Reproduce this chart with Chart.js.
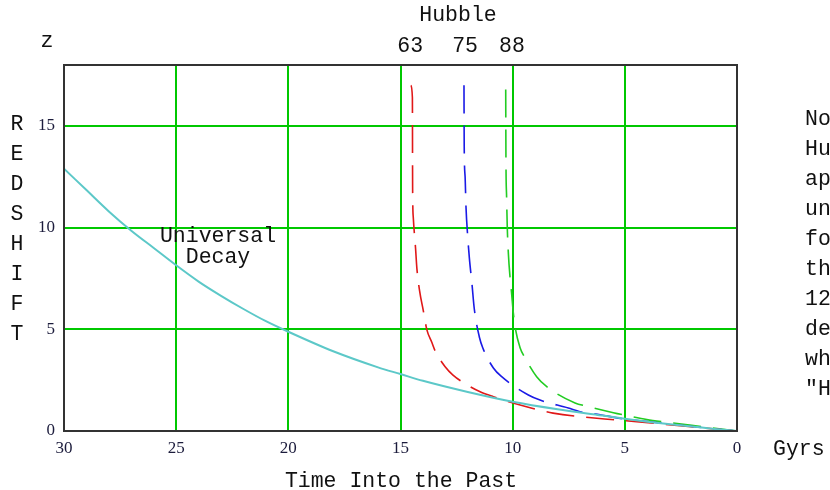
<!DOCTYPE html>
<html>
<head>
<meta charset="utf-8">
<title>Redshift vs Time Into the Past</title>
<script src="https://cdn.jsdelivr.net/npm/chart.js@4.4.0/dist/chart.umd.min.js"></script>
<style>
  html, body { margin: 0; padding: 0; background: #fff; }
  canvas { display: block; }
</style>
</head>
<body>
<canvas id="chartRedshift" width="830" height="490"></canvas>
<script>
// time into the past (Gyr) and redshift
const decayTime = [30, 29, 28, 27, 26, 25, 24, 23, 22, 21, 20, 18, 16, 15, 14, 12, 10, 8, 6, 5, 4, 2, 1, 0];
const decayZ    = [12.9, 11.85, 10.8, 9.85, 9.0, 8.15, 7.35, 6.65, 6.0, 5.4, 4.88, 3.92, 3.13, 2.8, 2.47, 1.92, 1.44, 1.07, 0.76, 0.6, 0.46, 0.22, 0.1, 0];

const redTime = [14.54, 14.47, 14.46, 14.43, 14.33, 14.27, 14.15, 13.98, 13.83, 13.6, 13.46, 13.01, 12.66, 11.9, 11.45, 10.86, 9.98, 8.2, 6.25, 4.47, 2.54, 0];
const redZ    = [17.0, 16.4, 12.0, 10.5, 9.0, 8.0, 6.9, 5.9, 5.0, 4.35, 3.95, 3.16, 2.75, 2.18, 1.93, 1.69, 1.38, 0.88, 0.63, 0.46, 0.26, 0];

const blueTime = [12.17, 12.16, 12.12, 12.08, 12.0, 11.93, 11.82, 11.71, 11.48, 11.33, 10.86, 10.49, 9.3, 8.78, 7.52, 7.0, 6.1, 5.2, 4.3, 3.3, 2.3, 1.0, 0];
const blueZ    = [17.0, 14.0, 12.5, 11.0, 9.5, 8.5, 7.3, 6.0, 4.6, 4.08, 3.1, 2.67, 1.77, 1.52, 1.13, 0.95, 0.8, 0.62, 0.5, 0.38, 0.26, 0.1, 0];

const greenTime = [10.31, 10.3, 10.27, 10.24, 10.19, 10.12, 10.05, 9.97, 9.89, 9.67, 9.45, 8.93, 8.48, 7.22, 6.7, 5.51, 4.92, 4.02, 3.13, 2.02, 0];
const greenZ    = [16.8, 13.5, 11.5, 10.0, 8.7, 7.6, 6.8, 5.8, 5.1, 4.1, 3.6, 2.67, 2.18, 1.38, 1.22, 0.9, 0.76, 0.56, 0.43, 0.28, 0];

const hubbleLabels = ['63', '75', '88'];
const hubbleLabelAt = [14.57, 12.12, 10.03];   // time where each label sits
const yAxisWord = 'REDSHIFT';
const sideNote = ['No', 'Hu', 'ap', 'un', 'fo', 'th', '12', 'de', 'wh', '"H'];

const toPoints = (xs, ys) => xs.map((t, i) => ({ x: t, y: ys[i] }));

const mono = '21.5px "Liberation Mono", "Courier New", monospace';
const tickFont = { family: '"Liberation Serif", "Times New Roman", serif', size: 17 };
const gridGreen = '#00c800';

// frame and all the loose text around the plot
const textPlugin = {
  id: 'texts',
  afterDatasetsDraw(chart) {
    const { ctx, chartArea: a, scales: { x } } = chart;
    ctx.save();
    ctx.strokeStyle = '#333';
    ctx.lineWidth = 2;
    ctx.strokeRect(a.left, a.top, a.right - a.left, a.bottom - a.top);

    ctx.fillStyle = '#111';
    ctx.font = mono;
    ctx.textBaseline = 'alphabetic';
    ctx.textAlign = 'center';
    ctx.fillText('Hubble', 458, 21);
    hubbleLabels.forEach((l, i) => ctx.fillText(l, x.getPixelForValue(hubbleLabelAt[i]), 52));
    ctx.fillText('z', 47, 47);
    yAxisWord.split('').forEach((c, i) => ctx.fillText(c, 17, 130 + 30 * i));
    ctx.fillText('Universal', 218, 242);
    ctx.fillText('Decay', 218, 263);
    ctx.fillText('Time Into the Past', 401, 487);

    ctx.textAlign = 'left';
    ctx.fillText('Gyrs', 773, 455);
    sideNote.forEach((s, i) => ctx.fillText(s, 805, 125 + 30 * i));
    ctx.restore();
  }
};

const line = (data, color, width, dash) => ({
  data,
  borderColor: color,
  borderWidth: width,
  borderDash: dash,
  showLine: true,
  pointRadius: 0,
  cubicInterpolationMode: 'monotone',
  fill: false
});

new Chart(document.getElementById('chartRedshift'), {
  type: 'scatter',
  data: {
    datasets: [
      line(toPoints(decayTime, decayZ), '#5cc8c8', 2, []),
      line(toPoints(redTime, redZ), '#e01818', 1.6, [28, 12]),
      line(toPoints(blueTime, blueZ), '#1a1ae6', 1.6, [28, 12]),
      line(toPoints(greenTime, greenZ), '#22cc22', 1.6, [28, 12])
    ]
  },
  options: {
    responsive: false,
    animation: false,
    layout: { padding: { left: 0, right: 93, top: 65, bottom: 0 } },
    plugins: {
      legend: { display: false },
      tooltip: { enabled: false }
    },
    scales: {
      x: {
        type: 'linear',
        min: 0,
        max: 30,
        reverse: true,
        afterFit: s => { s.height = 59; },
        border: { display: false },
        grid: {
          drawTicks: false,
          lineWidth: 2,
          color: c => (c.tick && (c.tick.value === 0 || c.tick.value === 30)) ? 'rgba(0,0,0,0)' : gridGreen
        },
        ticks: { stepSize: 5, padding: 7, color: '#1c1c3c', font: tickFont, maxRotation: 0 }
      },
      y: {
        type: 'linear',
        min: 0,
        max: 18,
        afterFit: s => { s.width = 64; },
        border: { display: false },
        grid: {
          drawTicks: false,
          lineWidth: 2,
          color: c => (c.tick && c.tick.value === 0) ? 'rgba(0,0,0,0)' : gridGreen
        },
        ticks: { stepSize: 5, includeBounds: false, padding: 9, color: '#1c1c3c', font: tickFont }
      }
    }
  },
  plugins: [textPlugin]
});
</script>
</body>
</html>
